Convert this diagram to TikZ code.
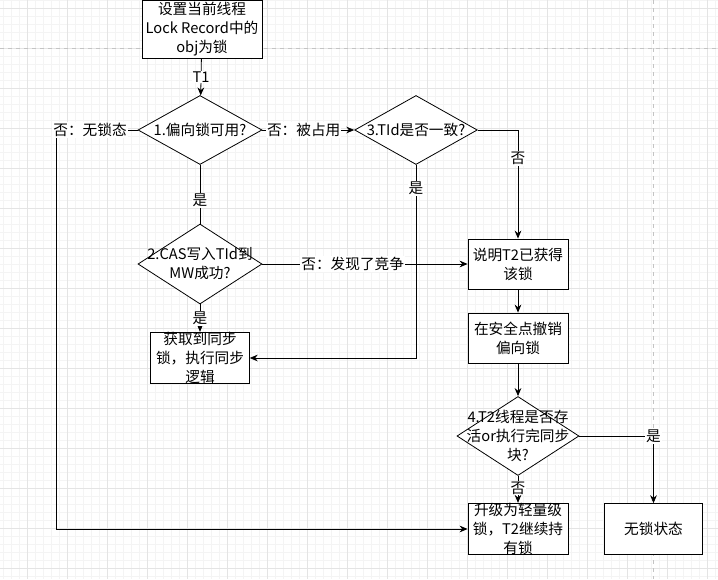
\documentclass[tikz,border=0pt]{standalone}
\usepackage{fontspec}
\newfontfamily\cjkfont{Noto Sans CJK SC}
\usetikzlibrary{shapes.geometric,arrows.meta}
\definecolor{gridminor}{HTML}{F4F4F4}
\definecolor{gridmajor}{HTML}{E4E4E4}
\definecolor{pageline}{HTML}{C4C4C4}

\begin{document}
\begin{tikzpicture}[x=0.75pt,y=-0.75pt,
	font=\cjkfont\fontsize{11}{14.25}\selectfont,
	box/.style={draw,fill=white,line width=0.6pt,align=center,inner sep=0pt,minimum width=75pt,minimum height=37.5pt},
	dia/.style={draw,fill=white,line width=0.6pt,diamond,inner sep=0pt},
	flow/.style={line width=0.6pt,-{Stealth[length=6pt,width=5pt]}},
	plain/.style={line width=0.6pt},
	lbl/.style={fill=white,inner sep=0.8pt}]
	\useasboundingbox (0,0) rectangle (718,579);
	% background grid and page breaks
	\foreach \gx in {3,11,...,715} \draw[gridminor,line width=0.4pt] (\gx,0) -- (\gx,579);
	\foreach \gy in {0,8,...,576} \draw[gridminor,line width=0.4pt] (0,\gy) -- (718,\gy);
	\foreach \gx in {27,67,...,707} \draw[gridmajor,line width=0.4pt] (\gx,0) -- (\gx,579);
	\foreach \gy in {8,48,...,568} \draw[gridmajor,line width=0.4pt] (0,\gy) -- (718,\gy);
	\draw[pageline,dashed] (0,48) -- (718,48);
	\draw[pageline,dashed] (653,0) -- (653,579);

	% boxes and decisions
	\node[box,minimum width=90pt,minimum height=43.5pt] (start) at (202,29) {设置当前线程\\Lock Record中的\\obj为锁};
	\node[dia,minimum width=93pt,minimum height=51.75pt,label={center:1.偏向锁可用?}] (d1) at (200,130) {};
	\node[dia,minimum width=93pt,minimum height=60pt,label={[align=center]center:2.CAS写入TId到\\MW成功?}] (d2) at (200,264) {};
	\node[dia,minimum width=92pt,minimum height=51.75pt,label={center:3.TId是否一致?}] (d3) at (416,130) {};
	\node[box,minimum width=74pt,minimum height=38pt] (b3) at (200,358) {获取到同步\\锁，执行同步\\逻辑};
	\node[box] (b2) at (518,264) {说明T2已获得\\该锁};
	\node[box] (b4) at (518,338) {在安全点撤销\\偏向锁};
	\node[dia,minimum width=91.5pt,minimum height=59.25pt,label={[align=center]center:4.T2线程是否存\\活or执行完同步\\块?}] (d4) at (518,436) {};
	\node[box,minimum height=38pt] (b5) at (518,529) {升级为轻量级\\锁，T2继续持\\有锁};
	\node[box,minimum width=74pt,minimum height=38pt] (b6) at (653.5,529) {无锁状态};

	% connectors
	\draw[flow] (start) -- node[lbl] {T1} (d1);
	\draw[plain] (d1) -- node[lbl,pos=0.6] {是} (d2);
	\draw[flow] (d2) -- node[lbl] {是} (b3);
	\draw[flow] (d1) -- node[lbl,pos=0.45] {否：被占用} (d3);
	\draw[flow] (d1.west) -- ++(-81,0) |- (b5.west);
	\node[lbl] (nolock) at (90,130) {否：无锁态};
	\draw[flow] (d3.east) -| node[lbl,pos=0.63] {否} (b2.north);
	\draw[flow] (d3.south) |- node[lbl,pos=0.06] {是} (b3.east);
	\draw[flow] (d2) -- node[lbl,pos=0.44] {否：发现了竞争} (b2);
	\draw[flow] (b2) -- (b4);
	\draw[flow] (b4) -- (d4);
	\draw[flow] (d4) -- node[lbl,pos=0.45] {否} (b5);
	\draw[flow] (d4.east) -| node[lbl,pos=0.5] {是} (b6.north);
\end{tikzpicture}
\end{document}
